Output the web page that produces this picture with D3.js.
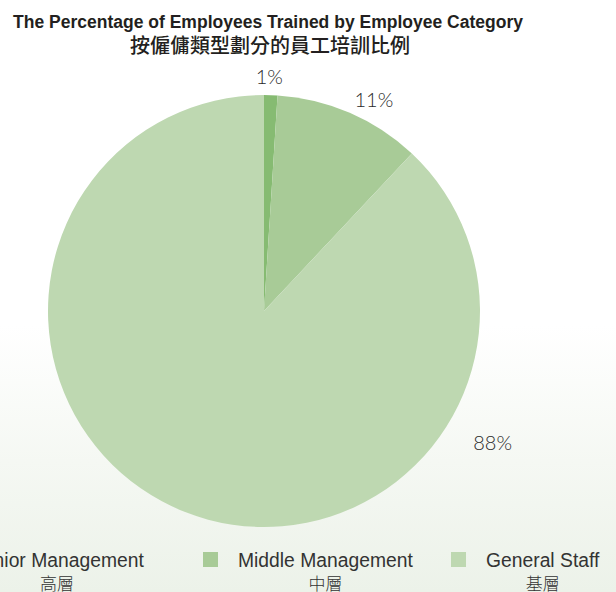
<!DOCTYPE html>
<html>
<head>
<meta charset="utf-8">
<script src="https://cdn.jsdelivr.net/npm/d3@7"></script>
<style>
  html, body { margin: 0; padding: 0; background: #fff; }
  #chart { width: 616px; height: 592px; overflow: hidden; }
</style>
</head>
<body>
<div id="chart"></div>
<script>
// Chart data
const categories = ["Senior Management", "Middle Management", "General Staff"]
const categoriesZh = ["高層", "中層", "基層"]
const values = [1, 11, 88]
const valueLabels = ["1%", "11%", "88%"]
const colors = ["#86bb72", "#a8cb97", "#bed8b1"]

const width = 616
const height = 592
const cx = 264, cy = 311, radius = 216
const narrow = 0.92   // slight horizontal squeeze for the legend face

const svg = d3.select("#chart").append("svg")
    .attr("width", width)
    .attr("height", height)

// Background fading to pale green at the bottom
const defs = svg.append("defs")
const grad = defs.append("linearGradient")
    .attr("id", "bg")
    .attr("x1", 0).attr("y1", 0).attr("x2", 0).attr("y2", 1)
grad.append("stop").attr("offset", "0%").attr("stop-color", "#ffffff")
grad.append("stop").attr("offset", "55%").attr("stop-color", "#ffffff")
grad.append("stop").attr("offset", "78%").attr("stop-color", "#f5f8f3")
grad.append("stop").attr("offset", "100%").attr("stop-color", "#ecf2e9")
svg.append("rect")
    .attr("width", width)
    .attr("height", height)
    .attr("fill", "url(#bg)")

// Title
svg.append("text")
    .attr("x", 268)
    .attr("y", 28)
    .attr("text-anchor", "middle")
    .attr("font-family", "'Liberation Sans', Arial, sans-serif")
    .attr("font-weight", "bold")
    .attr("font-size", 18)
    .attr("fill", "#231f20")
    .attr("textLength", 510)
    .attr("lengthAdjust", "spacingAndGlyphs")
    .text("The Percentage of Employees Trained by Employee Category")
svg.append("text")
    .attr("x", 270)
    .attr("y", 53)
    .attr("text-anchor", "middle")
    .attr("font-family", "'Noto Sans CJK TC', sans-serif")
    .attr("font-size", 20)
    .attr("font-weight", 500)
    .attr("fill", "#231f20")
    .text("按僱傭類型劃分的員工培訓比例")

// Pie
const pie = d3.pie().sort(null).value(d => d)
const arc = d3.arc().innerRadius(0).outerRadius(radius)
const arcs = pie(values)

const g = svg.append("g")
    .attr("transform", `translate(${cx},${cy})`)

g.selectAll("path")
    .data(arcs)
    .join("path")
    .attr("d", arc)
    .attr("fill", (d, i) => colors[i])

// Label placement (angle in degrees from 12 o'clock, radius in px)
const labelPlace = [{a: 1.3, r: 234}, {a: 27.5, r: 238}, {a: 120, r: 264}]
g.selectAll(".lbl")
    .data(arcs)
    .join("text")
    .attr("class", "lbl")
    .attr("x", (d, i) => labelPlace[i].r * Math.sin(labelPlace[i].a * Math.PI / 180))
    .attr("y", (d, i) => -labelPlace[i].r * Math.cos(labelPlace[i].a * Math.PI / 180))
    .attr("dy", "0.36em")
    .attr("text-anchor", "middle")
    .attr("font-family", "Lato, 'Open Sans', sans-serif")
    .attr("font-weight", 300)
    .attr("font-size", 20)
    .attr("fill", "#2a2a2a")
    .text((d, i) => valueLabels[i])

// Legend (swatch x positions)
const legendX = [-65, 203, 451]
const legend = svg.selectAll(".legend")
    .data(categories)
    .join("g")
    .attr("class", "legend")
    .attr("transform", (d, i) => `translate(${legendX[i]},552)`)

legend.append("rect")
    .attr("width", 15)
    .attr("height", 15)
    .attr("fill", (d, i) => colors[i])

legend.each(function(d, i) {
    const el = d3.select(this)
    const en = el.append("text")
        .attr("transform", `translate(35,15) scale(${narrow},1)`)
        .attr("font-family", "'Liberation Sans', Arial, sans-serif")
        .attr("font-size", 21)
        .attr("fill", "#333")
        .text(d)
    const w = en.node().getComputedTextLength() * narrow
    el.append("text")
        .attr("x", 35 + w / 2)
        .attr("y", 38)
        .attr("text-anchor", "middle")
        .attr("font-family", "'Noto Sans CJK TC', sans-serif")
        .attr("font-weight", 300)
        .attr("font-size", 17)
        .attr("fill", "#333")
        .text(categoriesZh[i])
})
</script>
</body>
</html>
